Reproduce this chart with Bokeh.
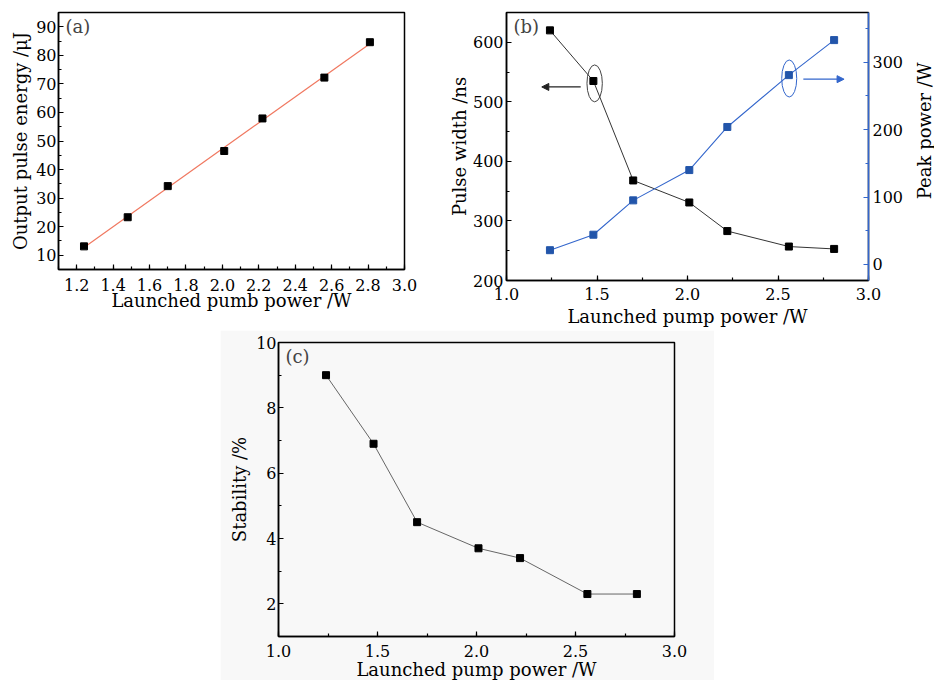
import math
import numpy as np
from bokeh.plotting import figure
from bokeh.models import (Range1d, LinearAxis, SingleIntervalTicker, NumeralTickFormatter,
                          Label, Arrow, NormalHead, Spacer)
from bokeh.core.properties import value
from bokeh.layouts import column, row
from bokeh.embed import file_html
from bokeh.resources import INLINE

# ---- data ----
pump_power = [1.24, 1.48, 1.70, 2.01, 2.22, 2.56, 2.81]
pulse_energy = [13.1, 23.3, 34.2, 46.5, 57.9, 72.2, 84.6]
pulse_width = [620, 535, 368, 331, 283, 257, 253]
peak_power = [21, 44, 95, 140, 204, 281, 333]
stability = [9.0, 6.9, 4.5, 3.7, 3.4, 2.3, 2.3]

# annotation positions in panel (b)
black_mark = dict(x=1.487, y=531, w=0.085, h=62, arrow_from=1.41, arrow_to=1.195, arrow_y=525)
blue_mark = dict(x=2.562, y=276, w=0.083, h=55, arrow_from=2.64, arrow_to=2.865, arrow_y=275)

FONT = "DejaVu Serif"
BLUE = "#3366cc"
BLUE_FILL = "#2255aa"


def style_axis(ax, interval, fmt, color="black", label_standoff=6, tick_standoff=5):
    ax.ticker = SingleIntervalTicker(interval=interval, num_minor_ticks=2)
    ax.formatter = NumeralTickFormatter(format=fmt)
    ax.major_tick_in = 5
    ax.major_tick_out = 0
    ax.minor_tick_in = 3
    ax.minor_tick_out = 0
    ax.axis_line_width = 1.5
    ax.axis_line_color = color
    ax.major_tick_line_color = color
    ax.minor_tick_line_color = color
    ax.major_tick_line_width = 1.2
    ax.minor_tick_line_width = 1.2
    ax.major_label_text_font = FONT
    ax.major_label_text_font_size = "16px"
    ax.major_label_text_color = "black"
    ax.major_label_standoff = tick_standoff
    ax.axis_label_text_font = FONT
    ax.axis_label_text_font_size = "18px"
    ax.axis_label_text_font_style = "normal"
    ax.axis_label_text_color = "black"
    ax.axis_label_standoff = label_standoff


def base_style(p):
    p.xgrid.visible = False
    p.ygrid.visible = False
    p.outline_line_color = "black"
    p.outline_line_width = 1.5
    p.outline_line_alpha = 1.0


def panel_label(p, text, x, y):
    p.add_layout(Label(x=x, y=y, text=text, text_font=FONT, text_font_size="18px",
                       text_baseline="top", text_align="left", x_offset=7, y_offset=-3))


# ---------------- panel (a) ----------------
pa = figure(frame_width=346, frame_height=257, x_range=Range1d(1.1, 3.0), y_range=Range1d(5, 95),
            output_backend="svg", toolbar_location=None,
            min_border_left=58, min_border_right=36, min_border_top=12, min_border_bottom=61)
base_style(pa)
style_axis(pa.xaxis[0], 0.2, "0.0", tick_standoff=9, label_standoff=-4)
style_axis(pa.yaxis[0], 10, "0", tick_standoff=2, label_standoff=2)
pa.xaxis[0].axis_label = "Launched pumb power /W"
pa.yaxis[0].axis_label = "Output pulse energy /\u03bcJ"
slope, intercept = np.polyfit(pump_power, pulse_energy, 1)
fit_x = [pump_power[0], pump_power[-1]]
fit_y = [slope * v + intercept for v in fit_x]
pa.line(fit_x, fit_y, line_color="#f07860", line_width=1.2)
pa.scatter(pump_power, pulse_energy, marker="square", size=7, fill_color="black", line_color="black")
panel_label(pa, "(a)", 1.1, 95)

# ---------------- panel (b) ----------------
pb = figure(frame_width=362, frame_height=268, x_range=Range1d(1.0, 3.0), y_range=Range1d(200, 650),
            output_backend="svg", toolbar_location=None,
            min_border_left=66, min_border_right=40, min_border_top=12, min_border_bottom=50)
base_style(pb)
pb.extra_y_ranges = {"right": Range1d(-24, 374)}
right_ax = LinearAxis(y_range_name="right")
pb.add_layout(right_ax, "right")
style_axis(pb.xaxis[0], 0.5, "0.0", tick_standoff=7, label_standoff=3)
style_axis(pb.yaxis[0], 100, "0", tick_standoff=3, label_standoff=0)
style_axis(right_ax, 100, "0", color=BLUE, tick_standoff=4, label_standoff=4)
pb.xaxis[0].axis_label = "Launched pump power /W"
pb.yaxis[0].axis_label = "Pulse width /ns"

pb.line(pump_power, pulse_width, line_color="#333333", line_width=1)
pb.scatter(pump_power, pulse_width, marker="square", size=7, fill_color="black", line_color="black")
pb.line(pump_power, peak_power, line_color=BLUE, line_width=1.1, y_range_name="right")
pb.scatter(pump_power, peak_power, marker="square", size=7, fill_color=BLUE_FILL, line_color=BLUE_FILL,
           y_range_name="right")

pb.ellipse(x=[black_mark["x"]], y=[black_mark["y"]], width=black_mark["w"], height=black_mark["h"],
           fill_color=None, line_color="#444444", line_width=1)
pb.add_layout(Arrow(x_start=black_mark["arrow_from"], y_start=black_mark["arrow_y"],
                    x_end=black_mark["arrow_to"], y_end=black_mark["arrow_y"],
                    line_color="#222222", line_width=1.2,
                    end=NormalHead(size=7, fill_color="#222222", line_color="#222222")))
pb.ellipse(x=[blue_mark["x"]], y=[blue_mark["y"]], width=blue_mark["w"], height=blue_mark["h"],
           fill_color=None, line_color=BLUE, line_width=1, y_range_name="right")
pb.add_layout(Arrow(x_start=blue_mark["arrow_from"], y_start=blue_mark["arrow_y"],
                    x_end=blue_mark["arrow_to"], y_end=blue_mark["arrow_y"],
                    line_color=BLUE, line_width=1.2, y_range_name="right",
                    end=NormalHead(size=7, fill_color=BLUE, line_color=BLUE)))
panel_label(pb, "(b)", 1.0, 650)

# right-hand axis title of panel (b), reading bottom to top (own narrow strip)
pr = figure(width=26, height=330, x_range=Range1d(0, 26), y_range=Range1d(330, 0),
            output_backend="svg", toolbar_location=None,
            min_border_left=0, min_border_right=0, min_border_top=0, min_border_bottom=0)
pr.axis.visible = False
pr.xgrid.visible = False
pr.ygrid.visible = False
pr.outline_line_color = None
pr.text(x=[16], y=[152], text=["Peak power /W"], angle=math.pi / 2,
        text_font=value(FONT), text_font_size="18px", text_align="center",
        text_baseline="middle", text_color="black")

# ---------------- panel (c) ----------------
pc = figure(frame_width=396, frame_height=294, x_range=Range1d(1.0, 3.0), y_range=Range1d(1, 10),
            output_backend="svg", toolbar_location=None,
            min_border_left=58, min_border_right=40, min_border_top=12, min_border_bottom=44)
base_style(pc)
pc.background_fill_color = "#f8f8f8"
pc.border_fill_color = "#f8f8f8"
style_axis(pc.xaxis[0], 0.5, "0.0", tick_standoff=8, label_standoff=-1)
style_axis(pc.yaxis[0], 2, "0", tick_standoff=2, label_standoff=3)
pc.xaxis[0].axis_label = "Launched pump power /W"
pc.yaxis[0].axis_label = "Stability /%"
pc.line(pump_power, stability, line_color="#666666", line_width=1)
pc.scatter(pump_power, stability, marker="square", size=7, fill_color="black", line_color="black")
panel_label(pc, "(c)", 1.0, 10)

layout = column(row(pa, pb, pr), row(Spacer(width=220, height=10), pc))

open("out.html", "w").write(file_html(layout, INLINE))
